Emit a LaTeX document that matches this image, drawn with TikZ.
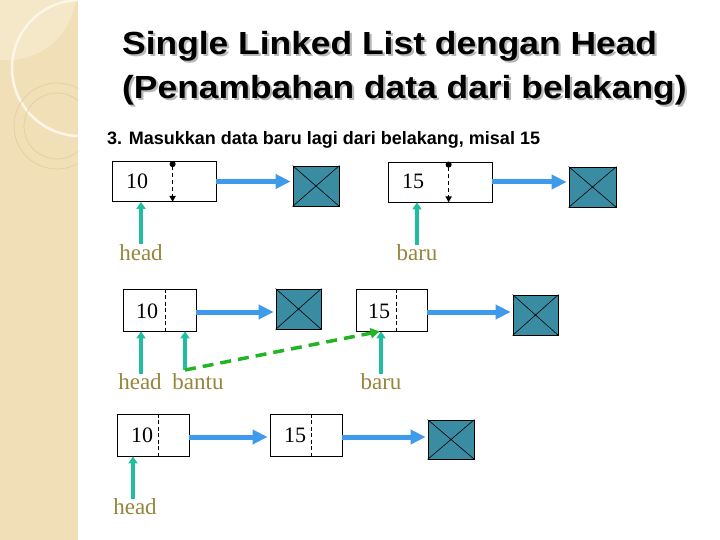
\documentclass[tikz,border=0pt]{standalone}
\usepackage{fontspec}
\setmainfont{Liberation Serif}
\newfontfamily\arialf{Liberation Sans}
\usetikzlibrary{arrows.meta,calc}
\definecolor{stripc}{RGB}{241,224,183}
\definecolor{stripl}{RGB}{245,232,200}
\definecolor{ringc}{RGB}{226,206,160}
\definecolor{arrblue}{RGB}{62,155,235}
\definecolor{arrteal}{RGB}{32,190,160}
\definecolor{nullc}{RGB}{58,140,162}
\definecolor{olivec}{RGB}{150,134,60}
\definecolor{greenc}{RGB}{34,180,34}
\newcommand{\shadowtxt}[1]{\rlap{\raisebox{-2pt}{\hspace{2pt}\textcolor{black!28}{#1}}}#1}
\tikzset{
  cell/.style={draw=black, line width=0.8pt, fill=white, inner sep=0pt},
  nullbox/.style={draw=black, line width=0.8pt, fill=nullc, inner sep=0pt},
  numtxt/.style={font=\fontsize{22}{24}\selectfont, inner sep=0pt, anchor=base west},
  lbltxt/.style={font=\fontsize{23}{26}\selectfont, text=olivec, inner sep=0pt, anchor=base},
  bluearr/.style={draw=arrblue, line width=5pt, -{Triangle[length=15pt,width=14pt]}, shorten >=2pt},
  tealarr/.style={draw=arrteal, line width=3.5pt, -{Triangle[length=7pt,width=9pt]}},
  greendash/.style={draw=greenc, line width=3.5pt, dash pattern=on 11pt off 7pt, -{Triangle[length=9pt,width=10pt]}},
  divptr/.style={draw=black, line width=1.5pt, dash pattern=on 4pt off 3pt, {Circle[length=6pt]}-{Triangle[length=6pt,width=6pt]}},
  divthin/.style={draw=black, line width=0.7pt, dash pattern=on 4pt off 2.5pt},
  titlesty/.style={font=\arialf\bfseries\fontsize{32}{38}\selectfont, inner sep=0pt, anchor=base west},
}
\begin{document}
\begin{tikzpicture}[x=1pt,y=-1pt]
\useasboundingbox (0,0) rectangle (720,540);
\fill[white] (0,0) rectangle (720,540);
\fill[stripc] (0,0) rectangle (78,540);
\begin{scope}
  \clip (0,0) rectangle (78,540);
  \fill[stripl] (8,-8) circle (68);
  \draw[white!70!stripc, line width=2.5pt] (80,68) circle (68);
  \draw[ringc, line width=0.7pt] (57,126) circle (43);
  \draw[ringc, line width=0.7pt] (57,126) circle (33);
\end{scope}

% title
\node[titlesty] (t1) at (122,55) {\scalebox{1.106}[1]{\shadowtxt{Single Linked List dengan Head}}};
\node[titlesty] (t2) at (122,99) {\scalebox{1.106}[1]{\shadowtxt{(Penambahan data dari belakang)}}};
\node[font=\arialf\bfseries\fontsize{18}{20}\selectfont, inner sep=0pt, anchor=base west] (sub) at (107,145) {3. Masukkan data baru lagi dari belakang, misal 15};

% ---------- row 1 ----------
\node[cell, minimum width=104pt, minimum height=40pt] (a10) at (164,181.5) {};
\node[numtxt] (a10t) at (126,189) {10};
\draw[divptr] ([xshift=61pt]a10.north west) -- ([xshift=61pt]a10.south west);
\node[nullbox, minimum width=46pt, minimum height=40pt] (n1) at (316,186) {};
\draw[line width=0.6pt] (n1.north west) -- (n1.south east) (n1.north east) -- (n1.south west);
\draw[bluearr] (a10.east) -- (a10.east -| n1.west);

\node[cell, minimum width=104pt, minimum height=40pt] (a15) at (440,182) {};
\node[numtxt] (a15t) at (402,189) {15};
\draw[divptr] ([xshift=61pt]a15.north west) -- ([xshift=61pt]a15.south west);
\node[nullbox, minimum width=47pt, minimum height=40pt] (n2) at (592.5,187) {};
\draw[line width=0.6pt] (n2.north west) -- (n2.south east) (n2.north east) -- (n2.south west);
\draw[bluearr] (a15.east) -- (a15.east -| n2.west);

\node[lbltxt] (hd1) at (141,260) {head};
\coordinate (hd1tail) at (141,244);
\draw[tealarr] (hd1tail) -- (hd1tail |- a10.south);
\node[lbltxt] (br1) at (417,260) {baru};
\coordinate (br1tail) at (417,245);
\draw[tealarr] (br1tail) -- (br1tail |- a15.south);

% ---------- row 2 ----------
\node[cell, minimum width=73pt, minimum height=42pt] (b10) at (159.5,310) {};
\node[numtxt] (b10t) at (136,318) {10};
\draw[divthin] ([xshift=43pt]b10.north west) -- ([xshift=43pt]b10.south west);
\node[nullbox, minimum width=45pt, minimum height=40pt] (n3) at (298.5,309) {};
\draw[line width=0.6pt] (n3.north west) -- (n3.south east) (n3.north east) -- (n3.south west);
\draw[bluearr] ([yshift=-2pt]b10.east) -- ([yshift=-2pt]b10.east -| n3.west);

\node[cell, minimum width=71pt, minimum height=42pt] (b15) at (391.5,310) {};
\node[numtxt] (b15t) at (368,318) {15};
\draw[divthin] ([xshift=41pt]b15.north west) -- ([xshift=41pt]b15.south west);
\node[nullbox, minimum width=45pt, minimum height=40pt] (n4) at (535.5,315) {};
\draw[line width=0.6pt] (n4.north west) -- (n4.south east) (n4.north east) -- (n4.south west);
\draw[bluearr] ([yshift=-2pt]b15.east) -- ([yshift=-2pt]b15.east -| n4.west);

\node[lbltxt] (hd2) at (140,389) {head};
\coordinate (hd2tail) at (141,374);
\draw[tealarr] (hd2tail) -- (hd2tail |- b10.south);
\node[lbltxt] (bt2) at (198,389) {bantu};
\coordinate (bt2tail) at (185,370);
\draw[tealarr] (bt2tail) -- (bt2tail |- b10.south);
\node[lbltxt] (br2) at (381,389) {baru};
\coordinate (br2tail) at (381,374);
\draw[tealarr] (br2tail) -- (br2tail |- b15.south);
\draw[greendash] (bt2tail) -- ([xshift=24pt]b15.south west);

% ---------- row 3 ----------
\node[cell, minimum width=72pt, minimum height=42pt] (c10) at (153,435) {};
\node[numtxt] (c10t) at (131,442) {10};
\draw[divthin] ([xshift=42pt]c10.north west) -- ([xshift=42pt]c10.south west);
\node[cell, minimum width=72pt, minimum height=42pt] (c15) at (306,435) {};
\node[numtxt] (c15t) at (284,442) {15};
\draw[divthin] ([xshift=42pt]c15.north west) -- ([xshift=42pt]c15.south west);
\node[nullbox, minimum width=46pt, minimum height=39pt] (n5) at (451,439.5) {};
\draw[line width=0.6pt] (n5.north west) -- (n5.south east) (n5.north east) -- (n5.south west);
\draw[bluearr] ([yshift=-2pt]c10.east) -- ([yshift=-2pt]c10.east -| c15.west);
\draw[bluearr] ([yshift=-2pt]c15.east) -- ([yshift=-2pt]c15.east -| n5.west);

\node[lbltxt] (hd3) at (135,514) {head};
\coordinate (hd3tail) at (133,499);
\draw[tealarr] (hd3tail) -- (hd3tail |- c10.south);
\end{tikzpicture}
\end{document}
